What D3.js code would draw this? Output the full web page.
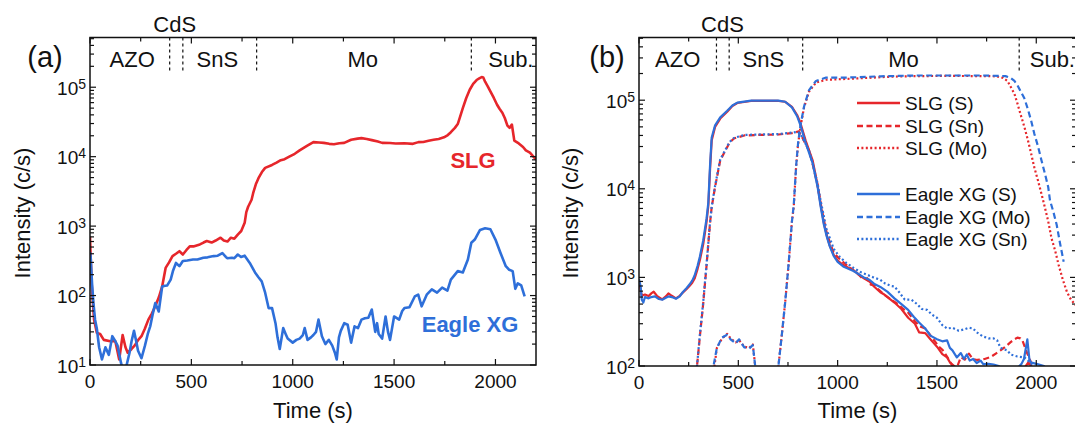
<!DOCTYPE html>
<html>
<head>
<meta charset="utf-8">
<script src="https://cdn.jsdelivr.net/npm/d3@7"></script>
<style>
  body { margin: 0; background: #fff; }
  svg text { font-family: "Liberation Sans", Arial, sans-serif; fill: #111; }
</style>
</head>
<body>
<div id="chart"></div>
<script>
// ---- data (time in s, intensity in c/s) ----
const xTicks = [0, 500, 1000, 1500, 2000];
const layerNames = ["AZO", "SnS", "Mo", "Sub."];

// panel (a)
const boundsA = [393, 458, 822, 1881];
const layerPosA = [208, 628, 1345, 2076];
const cdsPosA = 418;
const slgA = [[0, 700], [8, 150], [20, 45], [34, 29], [50, 28], [68, 23], [100, 22], [125, 22], [144, 12], [161, 27], [175, 18], [186, 15], [205, 17], [220, 19], [238, 23], [254, 26], [270, 33], [288, 45], [305, 55], [322, 70], [340, 95], [356, 135], [373, 250], [390, 300], [407, 370], [424, 400], [441, 435], [458, 390], [475, 450], [492, 510], [510, 510], [542, 545], [560, 580], [576, 610], [600, 580], [620, 620], [644, 680], [660, 620], [678, 600], [695, 680], [712, 660], [730, 760], [746, 850], [763, 1120], [771, 1590], [780, 1900], [797, 2400], [805, 3000], [818, 4000], [831, 4900], [848, 6000], [864, 6900], [898, 7600], [920, 8200], [941, 8900], [960, 9200], [983, 10000], [1010, 11000], [1034, 12300], [1070, 14300], [1102, 16200], [1130, 16000], [1153, 15800], [1180, 15300], [1203, 15100], [1230, 15600], [1254, 15800], [1288, 17500], [1320, 18200], [1339, 18500], [1365, 18000], [1390, 17300], [1420, 16500], [1441, 15800], [1480, 15700], [1508, 15500], [1550, 15600], [1593, 15300], [1620, 16200], [1644, 16300], [1670, 17000], [1695, 17500], [1720, 18000], [1746, 19000], [1765, 20500], [1780, 22500], [1800, 26000], [1814, 29500], [1825, 37000], [1839, 50000], [1856, 70000], [1873, 92000], [1890, 112000], [1907, 127000], [1920, 134000], [1932, 140000], [1940, 138000], [1949, 120000], [1962, 103000], [1975, 87000], [1992, 70000], [2008, 56000], [2020, 49000], [2034, 43000], [2046, 36000], [2059, 28000], [2070, 26000], [2081, 29000], [2093, 17000], [2115, 15500], [2136, 13800], [2150, 12300], [2170, 11400], [2185, 10200], [2200, 9100]];
const eagleA = [[0, 420], [3, 370], [10, 150], [17, 78], [25, 45], [34, 33], [45, 18], [59, 12], [76, 18], [93, 14], [110, 26], [125, 22], [136, 19], [145, 14], [153, 10.7], [165, 8], [175, 8.5], [195, 15], [205, 22], [217, 31], [228, 22], [237, 16], [254, 12.5], [271, 19], [285, 28], [297, 36], [310, 55], [322, 78], [339, 59], [356, 135], [370, 138], [381, 140], [398, 170], [410, 230], [424, 295], [441, 265], [458, 315], [480, 320], [508, 330], [530, 330], [559, 350], [580, 355], [610, 370], [630, 375], [653, 410], [670, 360], [678, 345], [700, 350], [712, 345], [729, 390], [745, 360], [763, 375], [788, 295], [814, 215], [830, 185], [847, 160], [864, 110], [881, 66], [898, 66], [915, 40], [925, 25], [936, 17], [953, 34], [965, 28], [975, 24], [1000, 21], [1018, 23], [1034, 24], [1050, 27], [1059, 34], [1073, 23], [1090, 25], [1102, 27], [1115, 30], [1127, 45], [1144, 26], [1161, 20], [1178, 23], [1195, 19], [1208, 15], [1217, 12], [1228, 25], [1237, 31], [1254, 40], [1271, 38], [1288, 21], [1305, 36], [1322, 34], [1339, 45], [1356, 47], [1373, 48], [1390, 63], [1407, 30], [1416, 40], [1424, 28], [1441, 24], [1458, 50], [1470, 30], [1480, 23], [1500, 50], [1525, 45], [1540, 60], [1551, 66], [1576, 68], [1602, 97], [1619, 103], [1636, 70], [1661, 103], [1686, 123], [1712, 110], [1737, 130], [1763, 118], [1780, 170], [1800, 200], [1814, 225], [1839, 215], [1864, 330], [1881, 575], [1898, 640], [1924, 880], [1949, 930], [1975, 900], [2000, 640], [2025, 410], [2051, 265], [2068, 235], [2085, 225], [2098, 125], [2110, 150], [2127, 140], [2144, 97]];

// panel (b)
const boundsB = [390, 454, 824, 1914];
const layerPosB = [195, 626, 1332, 2081];
const cdsPosB = 420;
const slgS_B = [[0, 900], [14, 620], [30, 640], [48, 615], [62, 660], [74, 690], [90, 620], [117, 565], [135, 610], [148, 660], [165, 620], [186, 580], [205, 620], [220, 670], [240, 740], [254, 800], [268, 870], [280, 970], [295, 1250], [306, 1550], [323, 2350], [340, 4200], [349, 6400], [358, 17000], [366, 35000], [383, 50000], [409, 62000], [444, 74000], [470, 86000], [495, 93000], [564, 98000], [702, 98000], [736, 96000], [770, 84000], [796, 68000], [813, 55000], [839, 35000], [874, 21000], [899, 11000], [915, 6500], [930, 4200], [945, 3000], [960, 2300], [980, 1800], [1000, 1550], [1028, 1380], [1080, 1200], [1132, 975], [1160, 900], [1183, 790], [1215, 680], [1235, 640], [1286, 520], [1321, 440], [1355, 350], [1389, 300], [1410, 240], [1441, 235], [1467, 200], [1485, 180], [1500, 165], [1527, 136], [1551, 125], [1565, 110], [1587, 100], [1600, 90], [1620, 80], [1900, 80], [1940, 95], [1960, 110], [1975, 100], [1990, 85], [2050, 70]];
const slgSn_B = [[270, 50], [292, 100], [306, 210], [323, 500], [340, 1350], [358, 4200], [366, 6200], [383, 10500], [409, 21000], [435, 27000], [455, 33000], [478, 37000], [530, 40000], [600, 40500], [702, 41000], [770, 42500], [805, 44500], [815, 40000], [822, 38000], [839, 32000], [856, 27000], [874, 19000], [899, 11000], [915, 6800], [930, 4500], [945, 3200], [960, 2500], [980, 1900], [1011, 1600], [1050, 1350], [1080, 1200], [1110, 1050], [1130, 950], [1149, 980], [1166, 830], [1185, 820], [1200, 750], [1235, 640], [1270, 560], [1304, 500], [1330, 440], [1355, 400], [1389, 320], [1415, 280], [1441, 265], [1475, 210], [1510, 165], [1530, 150], [1553, 125], [1578, 100], [1595, 85], [1602, 98], [1620, 126], [1640, 118], [1661, 138], [1680, 120], [1703, 117], [1740, 120], [1770, 126], [1800, 140], [1820, 150], [1845, 165], [1871, 186], [1890, 200], [1905, 209], [1920, 205], [1930, 195], [1955, 138], [1970, 115], [1980, 100], [2000, 80]];
const slgMo_B = [[360, 50], [380, 100], [392, 160], [418, 205], [444, 230], [461, 205], [487, 185], [504, 195], [530, 165], [555, 160], [573, 175], [585, 100], [595, 60], [690, 60], [702, 100], [719, 225], [736, 525], [753, 1400], [770, 4300], [779, 6200], [791, 17800], [801, 32000], [813, 50000], [831, 83000], [856, 125000], [891, 158000], [942, 170000], [1000, 172000], [1046, 174000], [1100, 176000], [1218, 182000], [1300, 185000], [1390, 187000], [1562, 188000], [1733, 187000], [1800, 186000], [1833, 178000], [1855, 165000], [1871, 142000], [1890, 118000], [1905, 92000], [1922, 68000], [1940, 50000], [1957, 36000], [1974, 25000], [1990, 17500], [2009, 12300], [2026, 8800], [2043, 6200], [2060, 4300], [2077, 2750], [2095, 2000], [2112, 1400], [2133, 950], [2155, 680], [2175, 560], [2200, 480]];
const eagleS_B = [[0, 950], [8, 800], [14, 560], [22, 520], [30, 600], [48, 580], [62, 600], [80, 610], [100, 570], [117, 560], [135, 590], [148, 610], [165, 600], [186, 575], [205, 610], [220, 680], [240, 760], [254, 830], [268, 920], [280, 1050], [295, 1350], [306, 1700], [323, 2600], [340, 4600], [349, 7000], [358, 19000], [366, 38000], [383, 52000], [409, 64000], [444, 76000], [470, 87000], [495, 94000], [564, 99000], [702, 99000], [736, 96000], [770, 83000], [796, 66000], [813, 52000], [839, 33000], [874, 19500], [899, 10500], [915, 6200], [930, 4000], [945, 2900], [960, 2250], [980, 1750], [1000, 1500], [1028, 1330], [1080, 1180], [1132, 1000], [1160, 940], [1183, 850], [1215, 780], [1250, 690], [1286, 580], [1321, 500], [1355, 430], [1383, 360], [1410, 310], [1441, 265], [1467, 220], [1500, 200], [1527, 190], [1551, 195], [1565, 160], [1578, 150], [1600, 125], [1620, 140], [1636, 120], [1650, 135], [1665, 115], [1682, 120], [1700, 108], [1720, 115], [1733, 105], [1760, 106], [1785, 104], [1811, 100], [1830, 92], [1905, 95], [1925, 105], [1938, 120], [1955, 200], [1965, 120], [1972, 110], [2005, 105], [2039, 100], [2050, 90]];
const eagleMo_B = [[360, 50], [375, 100], [392, 160], [418, 210], [444, 225], [461, 200], [487, 180], [504, 200], [530, 162], [555, 158], [573, 172], [585, 100], [595, 60], [690, 60], [702, 100], [719, 225], [736, 525], [753, 1400], [770, 4300], [779, 6500], [791, 18000], [801, 33000], [813, 52000], [831, 85000], [856, 130000], [891, 165000], [942, 180000], [1046, 180000], [1218, 186000], [1390, 190000], [1562, 190000], [1733, 190000], [1845, 187000], [1871, 178000], [1890, 165000], [1905, 148000], [1922, 125000], [1940, 105000], [1957, 80000], [1974, 59000], [1990, 42000], [2009, 30000], [2026, 21000], [2043, 15000], [2060, 10500], [2069, 7400], [2086, 5500], [2103, 3900], [2120, 2400], [2138, 1500]];
const eagleSn_B = [[270, 50], [292, 100], [306, 220], [323, 520], [340, 1400], [358, 4300], [366, 6300], [383, 10800], [409, 21500], [435, 27500], [455, 33500], [478, 37500], [530, 40500], [600, 41000], [702, 41500], [770, 43000], [800, 44000], [813, 41000], [822, 38000], [839, 32000], [856, 27000], [874, 19500], [899, 11500], [915, 7200], [930, 5000], [942, 3600], [960, 2800], [980, 2100], [1011, 1700], [1045, 1450], [1080, 1280], [1115, 1150], [1149, 1070], [1180, 1000], [1215, 940], [1240, 850], [1270, 800], [1286, 790], [1310, 680], [1338, 560], [1372, 560], [1400, 500], [1424, 440], [1450, 430], [1475, 380], [1500, 350], [1527, 290], [1551, 265], [1578, 270], [1610, 250], [1635, 258], [1660, 270], [1682, 265], [1700, 240], [1719, 225], [1733, 215], [1760, 205], [1785, 205], [1803, 195], [1820, 160], [1854, 150], [1871, 135], [1905, 128], [1940, 125], [1955, 117], [1974, 107], [1990, 98], [2010, 85]];

const legendNames = ["SLG (S)", "SLG (Sn)", "SLG (Mo)", "Eagle XG (S)", "Eagle XG (Mo)", "Eagle XG (Sn)"];

// ---- styling ----
const RED = "#e6262b";
const BLUE = "#2e6fd9";
const DASH = "6,3.5";
const DOT = "2,2.4";

const W = 1075, H = 428;
const svg = d3.select('#chart').append('svg')
    .attr('width', W)
    .attr('height', H)
    .attr('viewBox', `0 0 ${W} ${H}`);

// Draw the frame, ticks, labels and layer markers of one panel
function drawPanel(p) {
    const x = d3.scaleLinear().domain([0, 2200]).range([p.left, p.right]);
    const y = d3.scaleLog().domain([p.yMin, p.yMax]).range([p.bottom, p.top]);
    const g = svg.append('g');

    // clip for data lines
    g.append('clipPath').attr('id', 'clip-' + p.id)
        .append('rect')
        .attr('x', p.left).attr('y', p.top)
        .attr('width', p.right - p.left).attr('height', p.bottom - p.top);

    const line = d3.line().x(d => x(d[0])).y(d => y(d[1]));
    const lines = g.append('g').attr('clip-path', `url(#clip-${p.id})`);
    p.series.forEach(s => {
        lines.append('path')
            .attr('d', line(s.data))
            .attr('fill', 'none')
            .attr('stroke', s.color)
            .attr('stroke-width', p.lineWidth)
            .attr('stroke-dasharray', s.dash || null)
            .attr('stroke-linejoin', 'round');
    });

    // x ticks (inward, mirrored on top)
    const xMinor = d3.range(0, 2201, 250);
    const axisG = g.append('g').attr('stroke', '#111');
    xMinor.forEach(v => {
        const len = v % 500 === 0 ? 6 : 4;
        const xx = x(v);
        axisG.append('line').attr('x1', xx).attr('x2', xx).attr('y1', p.bottom).attr('y2', p.bottom - len).attr('stroke-width', 1.2);
        axisG.append('line').attr('x1', xx).attr('x2', xx).attr('y1', p.top).attr('y2', p.top + len).attr('stroke-width', 1.2);
    });

    // y ticks (log, inward, mirrored on right)
    const e0 = Math.round(Math.log10(p.yMin));
    const e1 = Math.ceil(Math.log10(p.yMax));
    for (let e = e0; e <= e1; e++) {
        for (let m = 1; m <= 9; m++) {
            const v = m * Math.pow(10, e);
            if (v < p.yMin || v > p.yMax) continue;
            const len = m === 1 ? 6 : 4;
            const yy = y(v);
            axisG.append('line').attr('x1', p.left).attr('x2', p.left + len).attr('y1', yy).attr('y2', yy).attr('stroke-width', 1.2);
            axisG.append('line').attr('x1', p.right).attr('x2', p.right - len).attr('y1', yy).attr('y2', yy).attr('stroke-width', 1.2);
        }
    }

    // frame
    g.append('rect')
        .attr('x', p.left).attr('y', p.top)
        .attr('width', p.right - p.left).attr('height', p.bottom - p.top)
        .attr('fill', 'none').attr('stroke', '#111').attr('stroke-width', 1.5);

    // x tick labels
    xTicks.forEach(v => {
        g.append('text')
            .attr('x', x(v)).attr('y', p.bottom + 23)
            .attr('text-anchor', 'middle')
            .attr('font-size', 19)
            .text(v);
    });

    // y tick labels 10^n
    for (let e = e0; e <= e1; e++) {
        const v = Math.pow(10, e);
        if (v < p.yMin || v > p.yMax) continue;
        const t = g.append('text')
            .attr('x', p.left - 4).attr('y', y(v) + 7.5)
            .attr('text-anchor', 'end')
            .attr('font-size', 19);
        t.append('tspan').text('10');
        t.append('tspan').attr('font-size', 14).attr('dy', -6).text(e);
    }

    // axis titles
    g.append('text')
        .attr('x', (p.left + p.right) / 2).attr('y', 418)
        .attr('text-anchor', 'middle')
        .attr('font-size', 22)
        .text('Time (s)');
    g.append('text')
        .attr('transform', `translate(${p.yTitleX},213) rotate(-90)`)
        .attr('text-anchor', 'middle')
        .attr('font-size', 22)
        .text('Intensity (c/s)');

    // panel label
    g.append('text')
        .attr('x', p.labelX).attr('y', 67)
        .attr('text-anchor', 'middle')
        .attr('font-size', 29)
        .text(p.label);

    // layer boundaries and names
    p.bounds.forEach(b => {
        g.append('line')
            .attr('x1', x(b)).attr('x2', x(b))
            .attr('y1', p.top).attr('y2', p.top + 35)
            .attr('stroke', '#111').attr('stroke-width', 1.2)
            .attr('stroke-dasharray', '3,3');
    });
    layerNames.forEach((n, i) => {
        g.append('text')
            .attr('x', x(p.layerPos[i])).attr('y', 67)
            .attr('text-anchor', 'middle')
            .attr('font-size', 22)
            .text(n);
    });
    g.append('text')
        .attr('x', x(p.cdsPos)).attr('y', 32)
        .attr('text-anchor', 'middle')
        .attr('font-size', 22)
        .text('CdS');

    return { x, y, g };
}

// panel (a)
const pa = drawPanel({
    id: 'a', label: '(a)', labelX: 45, yTitleX: 30,
    left: 90, right: 536, top: 37.5, bottom: 365,
    yMin: 10, yMax: 5.2e5, lineWidth: 2.6,
    bounds: boundsA, layerPos: layerPosA, cdsPos: cdsPosA,
    series: [
        { data: slgA, color: RED },
        { data: eagleA, color: BLUE }
    ]
});
pa.g.append('text')
    .attr('x', 473).attr('y', 168)
    .attr('text-anchor', 'middle')
    .attr('font-size', 22).attr('font-weight', 'bold')
    .style('fill', RED)
    .text('SLG');
pa.g.append('text')
    .attr('x', 470).attr('y', 332)
    .attr('text-anchor', 'middle')
    .attr('font-size', 22).attr('font-weight', 'bold')
    .style('fill', BLUE)
    .text('Eagle XG');

// panel (b)
const seriesB = [
    { data: slgS_B, color: RED },
    { data: slgSn_B, color: RED, dash: DASH },
    { data: slgMo_B, color: RED, dash: DOT },
    { data: eagleS_B, color: BLUE },
    { data: eagleMo_B, color: BLUE, dash: DASH },
    { data: eagleSn_B, color: BLUE, dash: DOT }
];
const pb = drawPanel({
    id: 'b', label: '(b)', labelX: 607, yTitleX: 578,
    left: 639, right: 1076, top: 37.5, bottom: 366,
    yMin: 100, yMax: 5.1e5, lineWidth: 2.2,
    bounds: boundsB, layerPos: layerPosB, cdsPos: cdsPosB,
    series: seriesB
});

// legend
const legendRows = [103, 126, 148, 194, 217, 239];
seriesB.forEach((s, i) => {
    const ly = legendRows[i];
    pb.g.append('line')
        .attr('x1', 857).attr('x2', 900)
        .attr('y1', ly).attr('y2', ly)
        .attr('stroke', s.color).attr('stroke-width', 2.4)
        .attr('stroke-dasharray', s.dash || null);
    pb.g.append('text')
        .attr('x', 905).attr('y', ly + 7)
        .attr('font-size', 19)
        .text(legendNames[i]);
});
</script>
</body>
</html>
